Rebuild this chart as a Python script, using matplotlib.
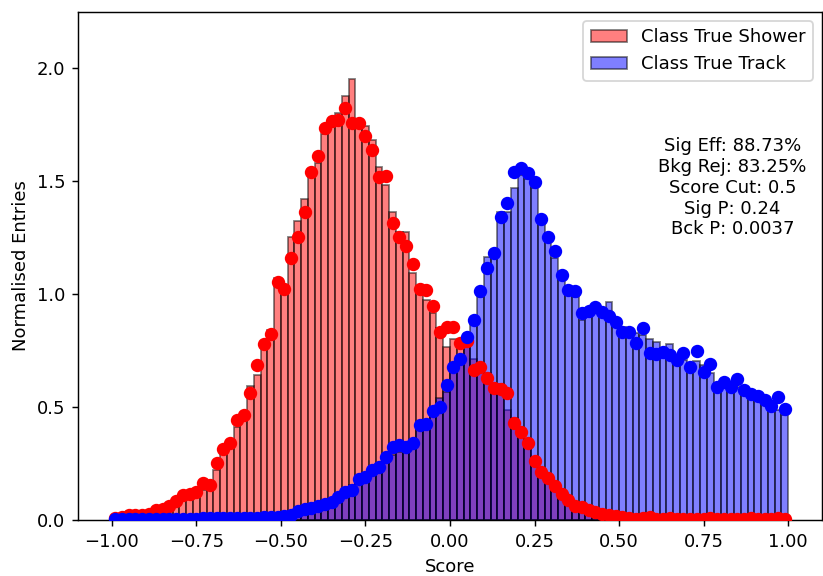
import numpy as np
import matplotlib
matplotlib.use("Agg")
import matplotlib.pyplot as plt

# Score histogram binning: 100 bins over [-1, 1]
n_bins = 100
score_min, score_max = -1.0, 1.0

# Normalised histogram heights (bars)
shower_hist = [
    0.008, 0.010, 0.012, 0.015, 0.018, 0.022, 0.035, 0.044, 0.052, 0.066,
    0.088, 0.100, 0.111, 0.133, 0.140, 0.221, 0.295, 0.324, 0.413, 0.452,
    0.595, 0.640, 0.762, 0.840, 1.070, 1.040, 1.252, 1.322, 1.419, 1.550,
    1.578, 1.708, 1.765, 1.800, 1.876, 1.951, 1.748, 1.742, 1.681, 1.563,
    1.482, 1.364, 1.276, 1.276, 1.091, 1.032, 0.973, 0.914, 0.850, 0.765,
    0.800, 0.790, 0.767, 0.711, 0.695, 0.649, 0.603, 0.603, 0.487, 0.450,
    0.390, 0.339, 0.280, 0.221, 0.177, 0.140, 0.110, 0.082, 0.065, 0.052,
    0.044, 0.036, 0.030, 0.023, 0.020, 0.014, 0.011, 0.009, 0.010, 0.010,
    0.008, 0.008, 0.008, 0.007, 0.007, 0.007, 0.006, 0.007, 0.007, 0.006,
    0.006, 0.006, 0.006, 0.006, 0.007, 0.006, 0.006, 0.006, 0.007, 0.006,
]
track_hist = [
    0.002, 0.003, 0.003, 0.003, 0.004, 0.004, 0.004, 0.005, 0.005, 0.005,
    0.006, 0.006, 0.007, 0.007, 0.007, 0.008, 0.008, 0.009, 0.009, 0.010,
    0.011, 0.012, 0.013, 0.013, 0.014, 0.016, 0.017, 0.020, 0.030, 0.044,
    0.059, 0.074, 0.091, 0.111, 0.133, 0.155, 0.177, 0.199, 0.221, 0.243,
    0.251, 0.288, 0.302, 0.310, 0.332, 0.398, 0.415, 0.500, 0.540, 0.568,
    0.693, 0.710, 0.800, 0.892, 0.988, 1.162, 1.170, 1.364, 1.364, 1.468,
    1.527, 1.508, 1.468, 1.327, 1.268, 1.158, 1.077, 1.010, 0.988, 0.885,
    0.900, 0.914, 0.922, 0.966, 0.885, 0.855, 0.840, 0.829, 0.818, 0.800,
    0.788, 0.759, 0.779, 0.708, 0.708, 0.693, 0.705, 0.686, 0.649, 0.602,
    0.612, 0.605, 0.587, 0.578, 0.553, 0.531, 0.519, 0.487, 0.487, 0.465,
]

# Normalised entries of the comparison sample (points)
shower_pts = [
    0.010, 0.014, 0.020, 0.020, 0.024, 0.027, 0.044, 0.050, 0.060, 0.086,
    0.110, 0.117, 0.125, 0.165, 0.155, 0.254, 0.313, 0.340, 0.442, 0.465,
    0.564, 0.688, 0.777, 0.824, 1.052, 1.024, 1.158, 1.251, 1.363, 1.538,
    1.611, 1.733, 1.765, 1.770, 1.822, 1.755, 1.755, 1.699, 1.637, 1.519,
    1.522, 1.316, 1.254, 1.212, 1.131, 1.021, 1.018, 0.947, 0.833, 0.855,
    0.855, 0.784, 0.792, 0.665, 0.679, 0.630, 0.584, 0.578, 0.564, 0.431,
    0.391, 0.341, 0.259, 0.214, 0.184, 0.150, 0.113, 0.089, 0.062, 0.059,
    0.045, 0.036, 0.028, 0.023, 0.019, 0.012, 0.008, 0.005, 0.011, 0.013,
    0.005, 0.005, 0.007, 0.005, 0.003, 0.005, 0.003, 0.005, 0.008, 0.005,
    0.003, 0.003, 0.005, 0.003, 0.007, 0.005, 0.004, 0.005, 0.009, 0.004,
]
track_pts = [
    0.003, 0.003, 0.004, 0.003, 0.004, 0.004, 0.005, 0.004, 0.005, 0.005,
    0.006, 0.006, 0.006, 0.007, 0.007, 0.008, 0.008, 0.009, 0.009, 0.010,
    0.011, 0.011, 0.013, 0.014, 0.015, 0.017, 0.020, 0.040, 0.048, 0.055,
    0.062, 0.069, 0.081, 0.100, 0.125, 0.133, 0.183, 0.192, 0.221, 0.234,
    0.280, 0.321, 0.333, 0.325, 0.342, 0.420, 0.425, 0.484, 0.498, 0.597,
    0.678, 0.711, 0.811, 0.885, 1.012, 1.114, 1.183, 1.342, 1.401, 1.541,
    1.556, 1.537, 1.494, 1.330, 1.251, 1.190, 1.084, 1.018, 1.013, 0.915,
    0.927, 0.941, 0.922, 0.903, 0.878, 0.833, 0.833, 0.782, 0.848, 0.737,
    0.735, 0.745, 0.730, 0.708, 0.737, 0.678, 0.748, 0.656, 0.690, 0.590,
    0.612, 0.587, 0.622, 0.575, 0.558, 0.549, 0.531, 0.504, 0.546, 0.490,
]

class_labels = ["Class True Shower", "Class True Track"]
summary_lines = [
    "Sig Eff: 88.73%",
    "Bkg Rej: 83.25%",
    "Score Cut: 0.5",
    "Sig P: 0.24",
    "Bck P: 0.0037",
]
y_ticks = [0.0, 0.5, 1.0, 1.5, 2.0]
x_ticks = [-1.0, -0.75, -0.5, -0.25, 0.0, 0.25, 0.5, 0.75, 1.0]

edges = np.linspace(score_min, score_max, n_bins + 1)
centers = 0.5 * (edges[:-1] + edges[1:])

dpi = 130
fig = plt.figure(figsize=(823 / dpi, 576 / dpi), dpi=dpi)
ax = fig.add_axes([78 / 823, 1 - 520 / 576, 744 / 823, 508 / 576])

ax.hist(centers, bins=edges, weights=shower_hist, color="red", alpha=0.5,
        edgecolor="black", linewidth=1.0, label=class_labels[0], zorder=1)
ax.hist(centers, bins=edges, weights=track_hist, color="blue", alpha=0.5,
        edgecolor="black", linewidth=1.0, label=class_labels[1], zorder=2)

ax.plot(centers, shower_pts, "o", color="red", markersize=6.4, zorder=3)
ax.plot(centers, track_pts, "o", color="blue", markersize=6.4, zorder=4)

ax.set_xlim(-1.1, 1.1)
ax.set_ylim(0, 2.248)
ax.set_xticks(x_ticks)
ax.set_yticks(y_ticks)
ax.set_xlabel("Score")
ax.set_ylabel("Normalised Entries")

ax.legend(loc="upper right")
ax.text(0.835, 1.47, "\n".join(summary_lines), ha="center", va="center",
        multialignment="center")

fig.savefig("out.png", dpi=dpi)
